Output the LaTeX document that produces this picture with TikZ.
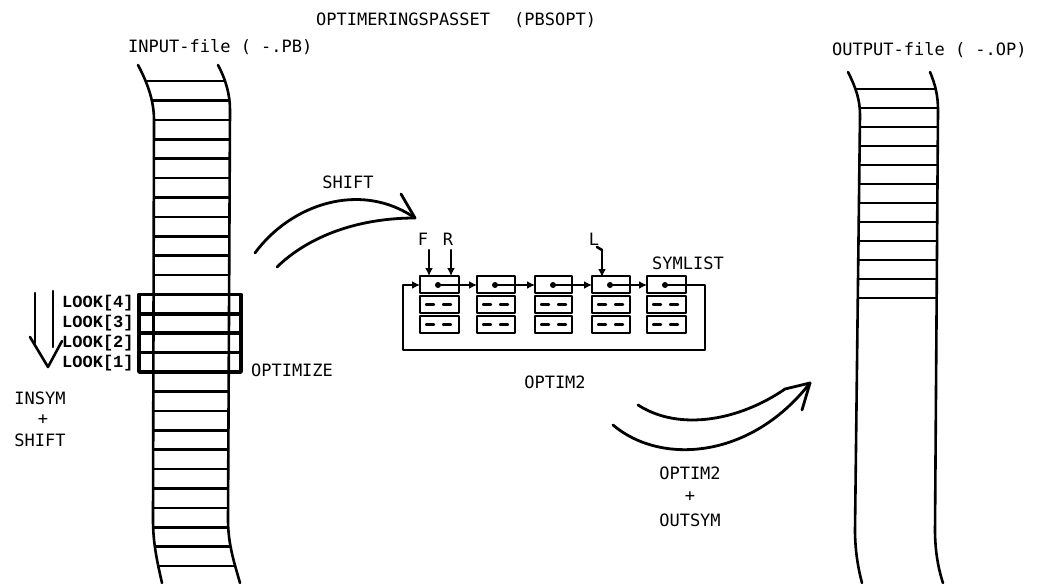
\documentclass[tikz,border=0pt]{standalone}
\usepackage{fontspec}
\setmonofont{DejaVu Sans Mono}
\newfontfamily\lookfont{Liberation Mono}
\usetikzlibrary{arrows.meta}
\begin{document}
\begin{tikzpicture}[x=1pt,y=-1pt,line cap=round,line join=round]
\tikzset{
  lbl/.style={font=\ttfamily\fontsize{17}{17}\selectfont,inner sep=0pt},
  looklbl/.style={font=\lookfont\bfseries\fontsize{17}{17}\selectfont,inner sep=0pt,anchor=west},
  edge/.style={line width=2.6pt},
  rung/.style={line width=2.6pt},
  thickbox/.style={line width=3.6pt},
  cell/.style={line width=2.6pt},
  ptr/.style={line width=2.4pt,-{Latex[length=8pt,width=8pt]}},
  dotc/.style={fill,circle,inner sep=0pt,minimum size=6pt},
  bigarrow/.style={line width=2.8pt},
}
\useasboundingbox (0,0) rectangle (1048,583);
\fill[white] (0,0) rectangle (1048,583);

% ---------- texts ----------
\node[lbl,anchor=west] (title) at (316,20) {OPTIMERINGSPASSET\hspace{24pt}(PBSOPT)};
\node[lbl,anchor=west] (inlbl) at (128,47) {INPUT-file ( -.PB)};
\node[lbl,anchor=west] (outlbl) at (832,50) {OUTPUT-file ( -.OP)};
\node[lbl] (shiftlbl) at (348,182) {SHIFT};
\node[lbl] (optimize) at (292,370) {OPTIMIZE};
\node[lbl] (insym) at (40,398) {INSYM};
\node[lbl] (plus1) at (43,420) {+};
\node[lbl] (shift2) at (40,440) {SHIFT};
\node[lbl] (optim2) at (555,382) {OPTIM2};
\node[lbl] (optim2b) at (690,473) {OPTIM2};
\node[lbl] (plus2) at (690,497) {+};
\node[lbl] (outsym) at (690,520) {OUTSYM};
\node[lbl] (symlist) at (688,263) {SYMLIST};
\node[lbl] (F) at (423,239) {F};
\node[lbl] (R) at (448,239) {R};
\node[lbl] (L) at (594,239) {L};

\node[looklbl] (look4) at (62,303) {LOOK[4]};
\node[looklbl] (look3) at (62,323) {LOOK[3]};
\node[looklbl] (look2) at (62,343) {LOOK[2]};
\node[looklbl] (look1) at (62,363) {LOOK[1]};

% ---------- input tape ----------
\begin{scope}
\clip (138,65) .. controls (147,82) and (154,100) .. (154,120) -- (153,520)
  .. controls (153,545) and (158,565) .. (162,583) -- (240,583)
  .. controls (235,565) and (228,545) .. (228,520) -- (230,110)
  .. controls (230,95) and (226,80) .. (218,65) -- cycle;
\foreach \k in {0,...,25} \draw[rung] (100,{81+19.4*\k}) -- (300,{81+19.4*\k});
\end{scope}
\draw[edge] (138,65) .. controls (147,82) and (154,100) .. (154,120) -- (153,520)
  .. controls (153,545) and (158,565) .. (162,583);
\draw[edge] (218,65) .. controls (226,80) and (230,95) .. (230,110) -- (228,520)
  .. controls (228,545) and (235,565) .. (240,583);

% LOOK window
\draw[thickbox] (139,294.4) rectangle (241,372);
\foreach \y in {313.8,333.2,352.6} \draw[thickbox] (139,\y) -- (241,\y);

% down arrow
\draw[edge] (35,293) -- (35,343);
\draw[edge] (53,291) -- (53,347);
\draw[edge] (30,337) -- (48,367) -- (62,341);

% ---------- output tape ----------
\begin{scope}
\clip (848,72) .. controls (856,88) and (860,100) .. (860,115) -- (855,530)
  .. controls (855,550) and (858,568) .. (862,583) -- (943,583)
  .. controls (938,568) and (935,550) .. (935,530) -- (938,110)
  .. controls (938,95) and (935,84) .. (930,72) -- cycle;
\foreach \k in {0,...,11} \draw[rung] (800,{89+19*\k}) -- (1000,{89+19*\k});
\end{scope}
\draw[edge] (848,72) .. controls (856,88) and (860,100) .. (860,115) -- (855,530)
  .. controls (855,550) and (858,568) .. (862,583);
\draw[edge] (930,72) .. controls (935,84) and (938,95) .. (938,110) -- (935,530)
  .. controls (935,550) and (938,568) .. (943,583);

% ---------- SHIFT curved arrow ----------
\coordinate (s1) at (255,253);
\coordinate (s2) at (277,267);
\coordinate (stip) at (415,218);
\coordinate (sbarb) at (401,194);
\draw[bigarrow] (s1) .. controls (290,205) and (360,180) .. (stip);
\draw[bigarrow] (s2) .. controls (310,235) and (360,218) .. (stip);
\draw[bigarrow] (sbarb) -- (stip);

% ---------- OPTIM2 curved arrow ----------
\coordinate (o1) at (638,405);
\coordinate (o2) at (613,425);
\coordinate (otip) at (810,383);
\coordinate (obarb) at (802,410);
\draw[bigarrow] (o1) .. controls (680,432) and (740,420) .. (785,389) -- (otip);
\draw[bigarrow] (o2) .. controls (660,465) and (750,460) .. (otip);
\draw[bigarrow] (otip) -- (obarb);

% ---------- linked list ----------
\foreach \l/\r [count=\i] in {420/459,477/515,535/572,592/630,647/686}{
  \draw[cell] (\l,276) rectangle (\r,293);
  \draw[cell] (\l,296) rectangle (\r,313);
  \draw[cell] (\l,316) rectangle (\r,333);
  \foreach \yy in {304.5,324.5}{
    \draw[line width=2.4pt] (\l+6,\yy) -- (\l+14,\yy);
    \draw[line width=2.4pt] (\l+23,\yy) -- (\l+31,\yy);
  }
  \coordinate (w\i) at (\l,285);
  \node[dotc] (p\i) at (\l+18,285) {};
}
\draw[ptr] (p1) -- (w2);
\draw[ptr] (p2) -- (w3);
\draw[ptr] (p3) -- (w4);
\draw[ptr] (p4) -- (w5);
\coordinate (lc1) at (705,285);
\coordinate (lc2) at (705,350);
\coordinate (lc3) at (403,350);
\coordinate (lc4) at (403,285);
\draw[ptr] (p5) -- (lc1) -- (lc2) -- (lc3) -- (lc4) -- (w1);

% F R L pointers
\coordinate (fa) at (429,250); \coordinate (fb) at (429,276);
\coordinate (ra) at (451,250); \coordinate (rb) at (451,276);
\coordinate (la) at (602,250); \coordinate (lb) at (602,277);
\draw[ptr] (fa) -- (fb);
\draw[ptr] (ra) -- (rb);
\draw[edge] (597,247) -- (la);
\draw[ptr] (la) -- (lb);
\end{tikzpicture}
\end{document}
